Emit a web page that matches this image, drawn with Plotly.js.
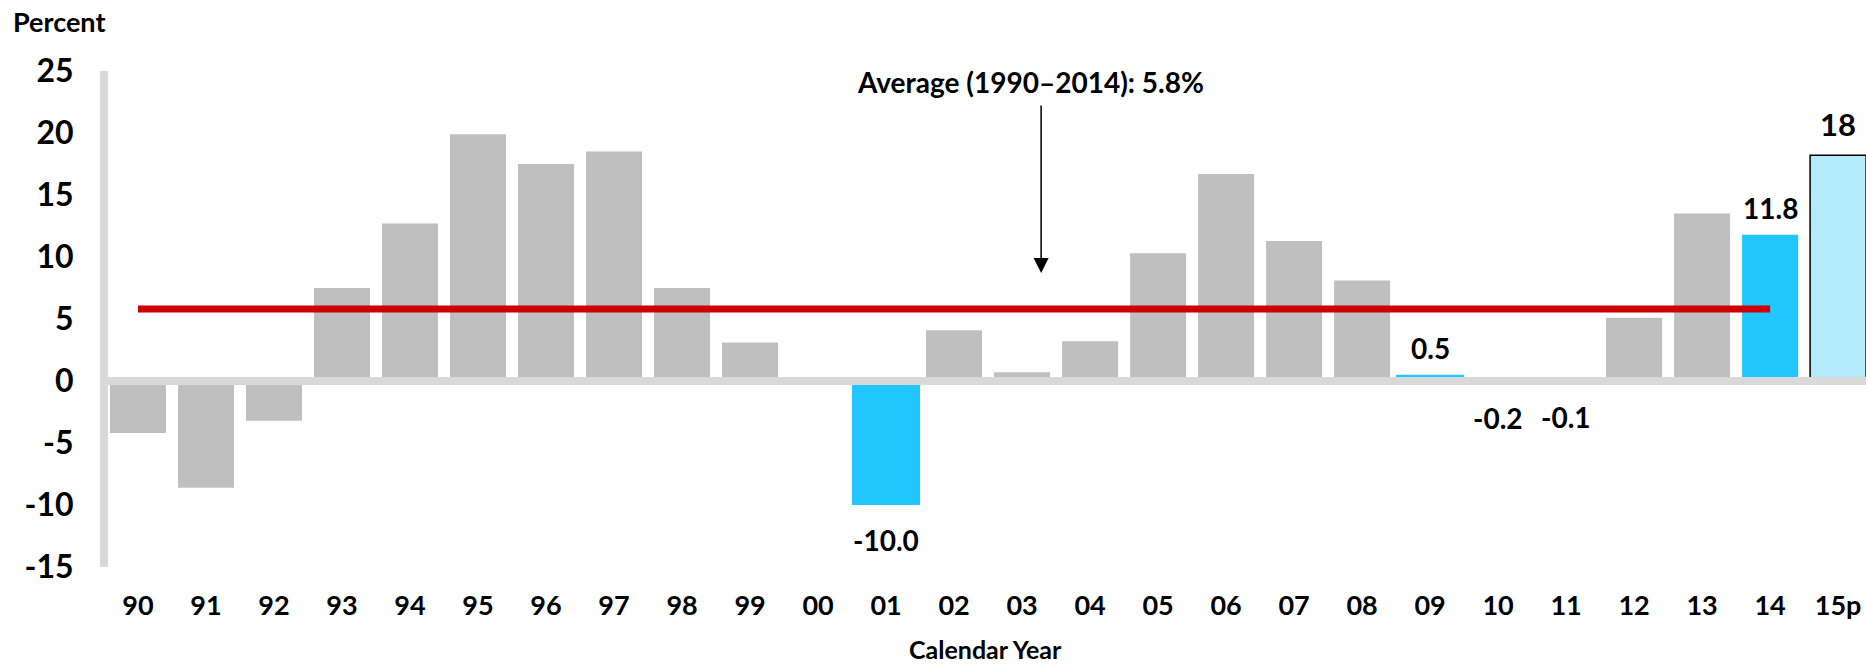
<!DOCTYPE html>
<html>
<head>
<meta charset="utf-8">
<script src="https://cdn.plot.ly/plotly-3.0.1.min.js"></script>
<style>
  html, body { margin: 0; padding: 0; background: #ffffff; }
  #chart { width: 1866px; height: 667px; }
</style>
</head>
<body>
<div id="chart"></div>
<script>
// ---- Data ----
const years = ['90','91','92','93','94','95','96','97','98','99','00','01','02',
               '03','04','05','06','07','08','09','10','11','12','13','14','15p'];
const growth = [-4.2, -8.6, -3.2, 7.5, 12.7, 19.9, 17.5, 18.5, 7.5, 3.1, 0, -10.0, 4.1,
                0.7, 3.2, 10.3, 16.7, 11.3, 8.1, 0.5, -0.2, -0.1, 5.1, 13.5, 11.8, 18.2];
const labelText = ['', '', '', '', '', '', '', '', '', '', '', '-10.0', '',
                   '', '', '', '', '', '', '0.5', '-0.2', '-0.1', '', '', '11.8', '18'];
const averageValue = 5.8;
const averageYears = years.slice(0, 25);   // 1990–2014
const averageLabel = 'Average (1990\u20132014): 5.8%';
const yTicks = [-15, -10, -5, 0, 5, 10, 15, 20, 25];

// ---- Styles ----
const highlighted = ['01', '09', '10', '11', '14'];
const wideBars = ['01', '09'];
const projected = ['15p'];
const GREY = '#bfbfbf', CYAN = '#21c5ff', LIGHT = '#b3eafc', AXIS = '#d9d9d9';
const FONT = 'Lato, "Open Sans", sans-serif';

const barColors = years.map(y => projected.includes(y) ? LIGHT : (highlighted.includes(y) ? CYAN : GREY));
const barLineW = years.map(y => projected.includes(y) ? 1.5 : 0);
const barWidths = years.map(y => wideBars.includes(y) ? 1.0 : 0.824);

const bars = {
  type: 'bar',
  x: years,
  y: growth,
  width: barWidths,
  marker: { color: barColors, line: { color: '#000000', width: barLineW } },
  hoverinfo: 'x+y',
  showlegend: false
};

const avgLine = {
  type: 'scatter',
  mode: 'lines',
  x: averageYears,
  y: averageYears.map(() => averageValue),
  line: { color: '#cc0000', width: 7 },
  hoverinfo: 'skip',
  showlegend: false
};

// data labels (category axis: annotation x given as category index)
const labelAnnotations = [];
years.forEach((yr, i) => {
  if (!labelText[i]) return;
  const v = growth[i];
  const big = projected.includes(yr);
  labelAnnotations.push({
    x: i, y: v, xref: 'x', yref: 'y',
    text: labelText[i], showarrow: false,
    xanchor: 'center', yanchor: 'middle',
    yshift: v >= 0 ? (big ? 31 : 27) : -35,
    font: { family: FONT, size: big ? 31 : 28, weight: 700, color: '#000' }
  });
});

const layout = {
  width: 1866, height: 667,
  margin: { l: 104, r: 0, t: 71, b: 100, pad: 0 },
  paper_bgcolor: '#ffffff', plot_bgcolor: '#ffffff',
  font: { family: FONT, weight: 700, color: '#000000' },
  bargap: 0.176,
  xaxis: {
    type: 'category',
    range: [-0.5, 25.41],
    showgrid: false, zeroline: false, showline: false,
    ticks: 'outside', ticklen: 15, tickcolor: 'rgba(0,0,0,0)',
    tickfont: { family: FONT, size: 27, weight: 700, color: '#000' },
    fixedrange: true
  },
  yaxis: {
    range: [-15, 25],
    tickvals: yTicks,
    ticktext: yTicks.map(String),
    showgrid: false, zeroline: false, showline: false,
    ticks: 'outside', ticklen: 23, tickcolor: 'rgba(0,0,0,0)',
    tickfont: { family: FONT, size: 32, weight: 700, color: '#000' },
    fixedrange: true
  },
  shapes: [
    // vertical axis bar
    { type: 'line', xref: 'paper', yref: 'paper', x0: 0, x1: 0, y0: 0, y1: 1,
      line: { color: AXIS, width: 8 }, layer: 'above' },
    // zero line
    { type: 'line', xref: 'x', yref: 'y', x0: -0.5, x1: 25.41, y0: 0, y1: 0,
      line: { color: AXIS, width: 8 }, layer: 'above' }
  ],
  annotations: labelAnnotations.concat([
    { xref: 'paper', yref: 'paper', x: -0.0528, y: 1.1008, xanchor: 'left', yanchor: 'middle',
      text: 'Percent', showarrow: false,
      font: { family: FONT, size: 27, weight: 700, color: '#000' } },
    { xref: 'paper', yref: 'paper', x: 0.5, y: -0.166, xanchor: 'center', yanchor: 'middle',
      text: 'Calendar Year', showarrow: false,
      font: { family: FONT, size: 25, weight: 700, color: '#000' } },
    // average label text
    { xref: 'x', yref: 'y', x: 13.13, y: 24.1, xanchor: 'center', yanchor: 'middle',
      text: averageLabel, showarrow: false,
      font: { family: FONT, size: 28, weight: 700, color: '#000' } },
    // arrow pointing at the average line
    { xref: 'x', yref: 'y', x: 13.28, y: 8.7, text: '', showarrow: true,
      ax: 0, ay: -169, arrowhead: 2, arrowsize: 2, arrowwidth: 1.5, arrowcolor: '#000' }
  ])
};

Plotly.newPlot('chart', [bars, avgLine], layout, { displayModeBar: false, staticPlot: true });
</script>
</body>
</html>
